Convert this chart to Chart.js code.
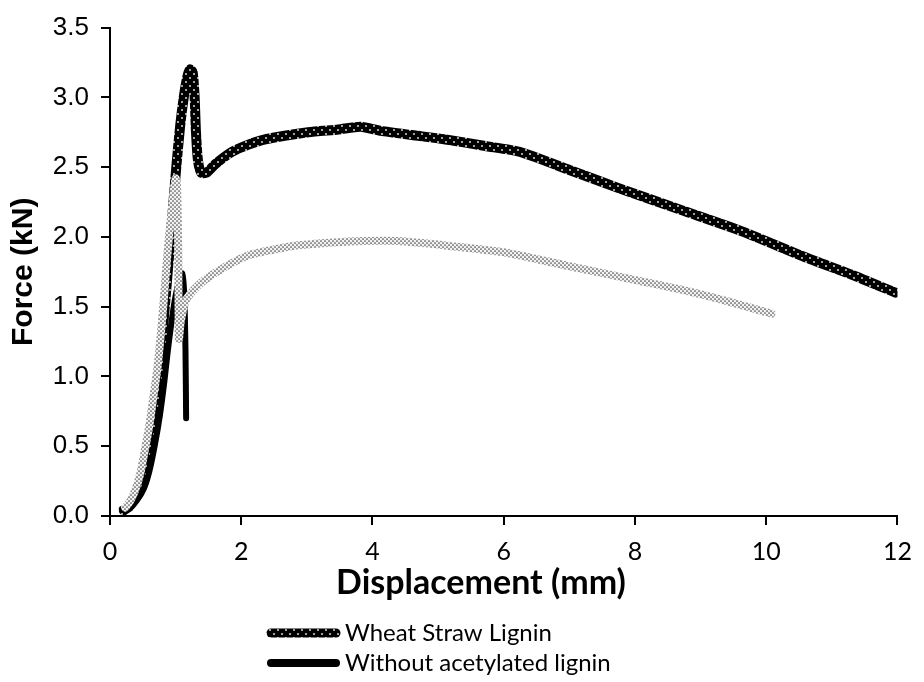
<!DOCTYPE html>
<html>
<head>
<meta charset="utf-8">
<script src="https://cdn.jsdelivr.net/npm/chart.js@4.4.1/dist/chart.umd.min.js"></script>
<style>
  body { margin: 0; background: #fff; }
  canvas { display: block; }
</style>
</head>
<body>
<canvas id="forceChart" width="924" height="682"></canvas>
<script>
// displacement (mm) / force (kN)
const wheatX = [0.21, 0.3, 0.42, 0.52, 0.62, 0.72, 0.8, 0.88, 0.95, 1.01, 1.07, 1.13, 1.18, 1.22, 1.26, 1.29, 1.31, 1.34, 1.39, 1.47, 1.6, 1.86, 2.1, 2.37, 3.02, 3.48, 3.82, 4.13, 4.6, 5.09, 5.74, 6.24, 7.0, 7.75, 8.72, 9.63, 10.62, 11.3, 11.97];
const wheatY = [0.04, 0.07, 0.15, 0.3, 0.55, 0.9, 1.3, 1.75, 2.15, 2.5, 2.8, 3.02, 3.15, 3.2, 3.18, 3.0, 2.75, 2.55, 2.46, 2.46, 2.52, 2.61, 2.66, 2.7, 2.75, 2.77, 2.79, 2.76, 2.73, 2.7, 2.65, 2.61, 2.48, 2.35, 2.19, 2.04, 1.85, 1.73, 1.6];

const withoutX = [0.18, 0.3, 0.42, 0.52, 0.6, 0.68, 0.76, 0.83, 0.88, 0.94, 1.0, 1.06, 1.1, 1.13, 1.15, 1.16];
const withoutY = [0.05, 0.07, 0.12, 0.2, 0.32, 0.5, 0.72, 0.97, 1.18, 1.4, 1.58, 1.7, 1.74, 1.6, 1.2, 0.7];

const acetX = [0.23, 0.3, 0.38, 0.46, 0.53, 0.6, 0.66, 0.72, 0.77, 0.82, 0.87, 0.92, 0.97, 1.0, 1.02, 1.04, 1.05, 1.08, 1.16, 1.36, 1.7, 2.12, 2.5, 2.87, 3.4, 3.88, 4.38, 5.09, 6.0, 7.0, 8.01, 8.72, 9.4, 10.08];
const acetY = [0.06, 0.1, 0.18, 0.3, 0.47, 0.65, 0.85, 1.05, 1.28, 1.55, 1.85, 2.1, 2.32, 2.42, 2.38, 1.9, 1.27, 1.4, 1.55, 1.66, 1.77, 1.87, 1.91, 1.94, 1.96, 1.97, 1.97, 1.94, 1.89, 1.79, 1.69, 1.62, 1.54, 1.45];

const xTicks = [0, 2, 4, 6, 8, 10, 12];
const yTicks = [0, 0.5, 1, 1.5, 2, 2.5, 3, 3.5];
const xTitle = 'Displacement (mm)';
const legendNames = ['Wheat Straw Lignin', 'Without acetylated lignin'];

const toPoints = (xs, ys) => xs.map((x, i) => ({x: x, y: ys[i]}));

const canvas = document.getElementById('forceChart');
const ctx = canvas.getContext('2d');

// staggered dots on a plain ground, used as the line colour
const dotPattern = (bg, dot, size, r) => {
    let tile = document.createElement('canvas');
    tile.width = size;
    tile.height = size;
    let g = tile.getContext('2d');
    g.fillStyle = bg;
    g.fillRect(0, 0, size, size);
    g.fillStyle = dot;
    [[size / 4, size / 4], [size * 3 / 4, size * 3 / 4]].forEach(p => {
        g.beginPath();
        g.arc(p[0], p[1], r, 0, Math.PI * 2);
        g.fill();
    });
    return ctx.createPattern(tile, 'repeat');
}

const darkDots = dotPattern('#000000', '#d6d6d6', 8, 1.0);
const greyDots = dotPattern('#f2f2f2', '#4a4a4a', 4, 0.85);

// x title sits a bit left of the plot centre, legend rows stacked below it
const bottomText = {
    id: 'bottomText',
    afterDraw(chart) {
        let c = chart.ctx;
        c.save();
        c.fillStyle = '#000';
        c.textBaseline = 'middle';
        c.textAlign = 'center';
        c.font = 'bold 34px Lato';
        c.fillText(xTitle, 481, 583);

        legendNames.forEach((name, i) => {
            let ds = chart.data.datasets.find(d => d.label === name);
            let y = 633 + i * 30;
            c.strokeStyle = ds.borderColor;
            c.lineWidth = ds.legendWidth;
            c.lineCap = 'round';
            c.beginPath();
            c.moveTo(271, y);
            c.lineTo(336, y);
            c.stroke();
            c.font = '24px Lato';
            c.textAlign = 'left';
            c.fillText(name, 345, y);
        });
        c.restore();
    }
};

new Chart(ctx, {
    type: 'scatter',
    data: {
        datasets: [{
            label: 'Acetylated lignin',
            data: toPoints(acetX, acetY),
            borderColor: greyDots,
            borderWidth: 8,
            order: 0
        }, {
            label: 'Without acetylated lignin',
            data: toPoints(withoutX, withoutY),
            borderColor: '#000',
            borderWidth: 6,
            legendWidth: 8,
            order: 1
        }, {
            label: 'Wheat Straw Lignin',
            data: toPoints(wheatX, wheatY),
            borderColor: darkDots,
            borderWidth: 10,
            legendWidth: 9,
            order: 2
        }]
    },
    options: {
        responsive: false,
        animation: false,
        showLine: true,
        layout: { padding: { left: 0, top: 23, right: 16, bottom: 78 } },
        elements: {
            point: { radius: 0, hoverRadius: 0 },
            line: { tension: 0.2, borderCapStyle: 'round', borderJoinStyle: 'round', fill: false }
        },
        plugins: {
            legend: { display: false },
            tooltip: { enabled: false }
        },
        scales: {
            x: {
                type: 'linear',
                min: 0,
                max: 12,
                afterBuildTicks: (scale) => { scale.ticks = xTicks.map(v => ({value: v})); },
                afterFit: (scale) => { scale.height = 88; },
                grid: { drawOnChartArea: false, drawTicks: true, tickLength: 9, color: '#000', lineWidth: 2 },
                border: { display: true, color: '#000', width: 2 },
                ticks: { color: '#000', padding: 12, font: { family: 'Lato', size: 25 } }
            },
            y: {
                type: 'linear',
                min: 0,
                max: 3.5,
                afterBuildTicks: (scale) => { scale.ticks = yTicks.map(v => ({value: v})); },
                afterFit: (scale) => { scale.width = 110; },
                grid: { drawOnChartArea: false, drawTicks: true, tickLength: 9, color: '#000', lineWidth: 2 },
                border: { display: true, color: '#000', width: 2 },
                ticks: {
                    color: '#000',
                    padding: 12,
                    font: { family: 'Liberation Sans', size: 26 },
                    callback: (v) => v.toFixed(1)
                },
                title: {
                    display: true,
                    text: 'Force (kN)',
                    color: '#000',
                    padding: { top: 6, bottom: 0 },
                    font: { family: 'Liberation Sans', size: 30, weight: 'bold' }
                }
            }
        }
    },
    plugins: [bottomText]
});
</script>
</body>
</html>
